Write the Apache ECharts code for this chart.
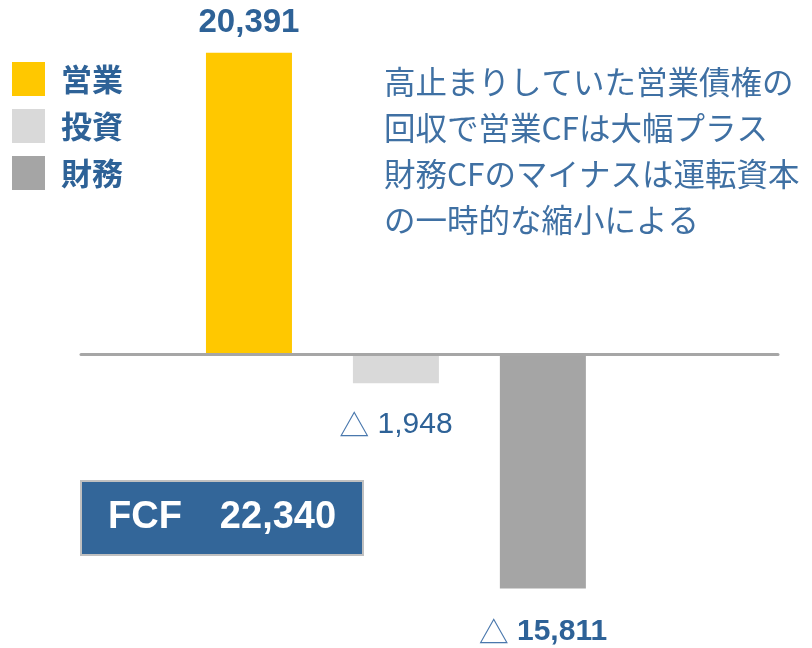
<!DOCTYPE html>
<html>
<head>
<meta charset="utf-8">
<script src="https://cdn.jsdelivr.net/npm/echarts@6/dist/echarts.min.js"></script>
<style>
  html, body { margin: 0; padding: 0; background: #ffffff; }
  #chart { width: 812px; height: 648px; }
</style>
</head>
<body>
<div id="chart"></div>
<script>
// ---- data ----
const categories = ['営業', '投資', '財務'];
const values = [20391, -1948, -15811];
const fcfLabel = 'FCF';
const fcfValue = 22340;
const noteLines = [
  '高止まりしていた営業債権の',
  '回収で営業CFは大幅プラス',
  '財務CFのマイナスは運転資本',
  'の一時的な縮小による'
];

// ---- styles ----
const colors = ['#FFC800', '#D9D9D9', '#A5A5A5'];
const labelBlue = '#2E6297';
const noteBlue = '#3F70A3';
const latin = "'Liberation Sans', Arial, 'Noto Sans CJK JP', sans-serif";
const cjk = "'Noto Sans CJK JP', 'Liberation Sans', sans-serif";
const fmt = v => Math.abs(v).toLocaleString('en-US');

const k = 0.0148; // px per unit
const zeroY = 354.5;
const H = 648;

const labelFor = (i) => {
  if (values[i] >= 0) {
    return {
      show: true, position: 'top', distance: 13,
      formatter: p => fmt(p.value[1]),
      color: labelBlue, fontFamily: latin, fontWeight: 'bold', fontSize: 33
    };
  }
  const bold = i === 2;
  return {
    show: true, position: 'bottom', distance: bold ? 28 : 26,
    formatter: p => '{t|△}{b| ' + fmt(p.value[1]) + '}',
    rich: {
      t: { fontFamily: cjk, fontSize: 30, color: '#4A78AD' },
      b: { fontFamily: latin, fontSize: 30, fontWeight: bold ? 'bold' : 'normal', color: labelBlue }
    }
  };
};

const series = categories.map((name, i) => ({
  name: name,
  type: 'bar',
  barWidth: 86,
  barGap: '-100%',
  itemStyle: { color: colors[i] },
  label: labelFor(i),
  data: [[i + 1, values[i]]]
}));

const chart = echarts.init(document.getElementById('chart'), null, { renderer: 'canvas' });
chart.setOption({
  animation: false,
  backgroundColor: '#ffffff',
  color: colors,
  grid: { left: 81, right: 34, top: 0, bottom: 0, containLabel: false },
  xAxis: {
    type: 'value',
    min: -0.143, max: 4.6,
    z: 10,
    axisLine: { show: true, onZero: true, lineStyle: { color: '#A6A6A6', width: 3 } },
    axisTick: { show: false },
    axisLabel: { show: false },
    splitLine: { show: false }
  },
  yAxis: {
    type: 'value',
    min: -(H - zeroY) / k,
    max: zeroY / k,
    show: false,
    splitLine: { show: false }
  },
  legend: {
    orient: 'vertical',
    left: 12, top: 62,
    padding: 0,
    icon: 'rect',
    itemWidth: 33, itemHeight: 34, itemGap: 13,
    selectedMode: false,
    data: categories,
    textStyle: { color: labelBlue, fontFamily: cjk, fontWeight: 'bold', fontSize: 31, padding: [0, 0, 0, 11] }
  },
  title: {
    text: fcfLabel + '\u3000' + fcfValue.toLocaleString('en-US'),
    left: 81, top: 481,
    padding: [18, 27, 18, 27],
    backgroundColor: '#336699',
    borderColor: '#C0C0C0',
    borderWidth: 2,
    textStyle: { color: '#ffffff', fontFamily: latin, fontWeight: 'bold', fontSize: 38, lineHeight: 38 }
  },
  graphic: [{
    type: 'text',
    left: 384, top: 59,
    style: {
      text: noteLines.join('\n'),
      fill: noteBlue,
      font: "31.5px 'Noto Sans CJK JP', sans-serif",
      lineHeight: 46
    }
  }],
  series: series
});
</script>
</body>
</html>
